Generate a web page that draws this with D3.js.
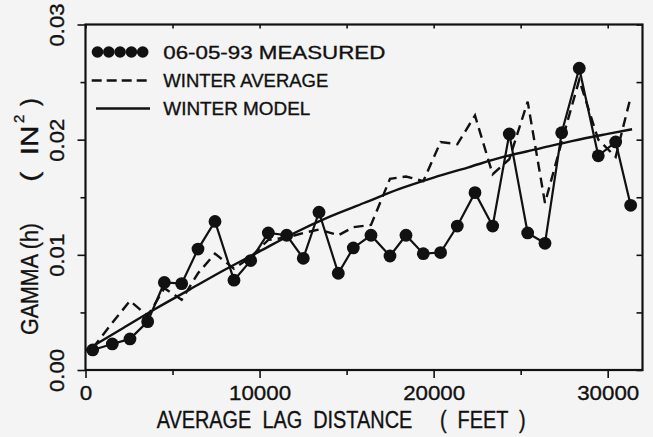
<!DOCTYPE html>
<html>
<head>
<meta charset="utf-8">
<script src="https://cdn.jsdelivr.net/npm/d3@7"></script>
<style>
  html, body { margin: 0; padding: 0; background: #f4f4f4; }
  svg { display: block; }
  text { font-family: "Liberation Sans", Arial, Helvetica, sans-serif; fill: #111; stroke: #111; stroke-width: 0.35px; }
</style>
</head>
<body>
<svg id="chart" width="653" height="437"></svg>
<script>
// Lag distances (feet) of the measured / winter-average bins
const lagFeet = [413, 1540, 2556, 3572, 4530, 5525, 6463, 7440, 8530, 9490,
  10503, 11557, 12512, 13414, 14523, 15386, 16402, 17493, 18412, 19406,
  20400, 21360, 22376, 23392, 24347, 25403, 26398, 27356, 28367, 29460,
  30458, 31320];

// 06-05-93 measured semivariogram
const measuredGamma = [0.00174, 0.00226, 0.0027, 0.0042, 0.0076, 0.0075, 0.0105, 0.0129, 0.0078, 0.0095,
  0.0119, 0.0117, 0.0097, 0.0137, 0.0084, 0.0106, 0.0117, 0.0099, 0.0117, 0.0101,
  0.0102, 0.0125, 0.0154, 0.0125, 0.0205, 0.0119, 0.0110, 0.0206, 0.0262, 0.0186,
  0.0198, 0.0143];

// Winter average semivariogram
const winterAverage = [0.0019, 0.0041, 0.0060, 0.0047, 0.0071, 0.0061, 0.0084, 0.0101, 0.0088, 0.0098,
  0.0113, 0.0115, 0.0119, 0.0122, 0.0117, 0.0124, 0.0126, 0.0166, 0.0168, 0.0164,
  0.0198, 0.0196, 0.0221, 0.0170, 0.0183, 0.0233, 0.0145, 0.0198, 0.0252, 0.0200,
  0.0185, 0.0237];

// Winter model curve, sampled
const modelLag   = [0, 2000, 4000, 6000, 8000, 10000, 12000, 14000, 16000, 18000, 20000, 22000, 24000, 26000, 28000, 30000, 31400];
const modelGamma = [0.0017, 0.0035, 0.0053, 0.0070, 0.0087, 0.0103, 0.0119, 0.0133, 0.0145, 0.0157, 0.0167, 0.0176, 0.0185, 0.0192, 0.0199, 0.0205, 0.0209];

const xMajorTicks = [0, 10000, 20000, 30000];
const xMinorTicks = [5000, 15000, 25000];
const yMajorTicks = [0, 0.01, 0.02, 0.03];
const yMinorTicks = [0.005, 0.015, 0.025];

const legendLabels = ["06-05-93 MEASURED", "WINTER AVERAGE", "WINTER MODEL"];
const xTitle = "AVERAGE  LAG  DISTANCE     (  FEET  )";

const L = 85.5, R = 642.5, T = 24.5, B = 370;
const svg = d3.select("#chart");

const x = d3.scaleLinear().domain([0, 32000]).range([L, R]);
const y = d3.scaleLinear().domain([0, 0.03]).range([B, T]);

// ---- axes -------------------------------------------------------------
const axisStyle = g => {
  g.select(".domain").remove();
  g.selectAll(".tick line").attr("stroke", "#111").attr("stroke-width", 1.6);
};

// bottom: major ticks with labels, minor ticks without
svg.append("g").attr("transform", `translate(0,${B})`)
  .call(d3.axisBottom(x).tickValues(xMajorTicks).tickSize(8).tickFormat(d3.format("d")))
  .call(axisStyle)
  .call(g => g.selectAll(".tick text")
    .attr("y", 30).attr("dy", 0)
    .attr("font-size", 21)
    .attr("textLength", d => d === 0 ? 12.5 : 62)
    .attr("lengthAdjust", "spacingAndGlyphs")
    .style("fill", "#111"));
svg.append("g").attr("transform", `translate(0,${B})`)
  .call(d3.axisBottom(x).tickValues(xMinorTicks).tickSize(5).tickFormat(""))
  .call(axisStyle);

// top: short inward ticks
svg.append("g").attr("transform", `translate(0,${T})`)
  .call(d3.axisBottom(x).tickValues(xMajorTicks.concat(xMinorTicks)).tickSize(4).tickFormat(""))
  .call(axisStyle);

// left: rotated labels
svg.append("g").attr("transform", `translate(${L},0)`)
  .call(d3.axisLeft(y).tickValues(yMajorTicks).tickSize(8).tickFormat(d3.format(".2f")))
  .call(axisStyle)
  .call(g => g.selectAll(".tick text")
    .attr("x", 0).attr("dy", 0)
    .attr("transform", "translate(-22,0) rotate(-90)")
    .attr("text-anchor", "middle")
    .attr("font-size", 21)
    .attr("textLength", 43)
    .attr("lengthAdjust", "spacingAndGlyphs")
    .style("fill", "#111"));
svg.append("g").attr("transform", `translate(${L},0)`)
  .call(d3.axisLeft(y).tickValues(yMinorTicks).tickSize(5).tickFormat(""))
  .call(axisStyle);

// right: inward ticks
svg.append("g").attr("transform", `translate(${R},0)`)
  .call(d3.axisRight(y).tickValues(yMajorTicks.concat(yMinorTicks)).tickSize(-6).tickFormat(""))
  .call(axisStyle);

// frame
svg.append("rect")
  .attr("x", L).attr("y", T).attr("width", R - L).attr("height", B - T)
  .attr("fill", "none").attr("stroke", "#111").attr("stroke-width", 2.2);

// ---- axis titles --------------------------------------------------------
svg.append("text").attr("x", 156.7).attr("y", 428)
  .style("white-space", "pre")
  .attr("font-size", 23).attr("textLength", 369).attr("lengthAdjust", "spacingAndGlyphs")
  .text(xTitle);

const yTitle = svg.append("g");
yTitle.append("text").attr("transform", "translate(38.3,335) rotate(-90)")
  .attr("font-size", 23).attr("textLength", 112).attr("lengthAdjust", "spacingAndGlyphs")
  .text("GAMMA (h)");
yTitle.append("text").attr("transform", "translate(38.3,181.7) rotate(-90)")
  .style("white-space", "pre")
  .attr("font-size", 23).attr("textLength", 56).attr("lengthAdjust", "spacingAndGlyphs")
  .text("(  IN");
yTitle.append("text").attr("transform", "translate(23.5,123) rotate(-90)")
  .attr("font-size", 15).text("2");
yTitle.append("text").attr("transform", "translate(38.3,106) rotate(-90)")
  .attr("font-size", 23).text(")");

// ---- series -------------------------------------------------------------
const lineGen = d3.line().x(d => x(d[0])).y(d => y(d[1]));

const avgPts = lagFeet.map((d, i) => [d, winterAverage[i]]);
svg.append("path").datum(avgPts)
  .attr("d", lineGen)
  .attr("fill", "none").attr("stroke", "#111").attr("stroke-width", 2.4)
  .attr("stroke-dasharray", "10,6");

const modelPts = modelLag.map((d, i) => [d, modelGamma[i]]);
svg.append("path").datum(modelPts)
  .attr("d", lineGen.curve(d3.curveMonotoneX))
  .attr("fill", "none").attr("stroke", "#111").attr("stroke-width", 2.4);

const measPts = lagFeet.map((d, i) => [d, measuredGamma[i]]);
svg.append("path").datum(measPts)
  .attr("d", d3.line().x(d => x(d[0])).y(d => y(d[1])))
  .attr("fill", "none").attr("stroke", "#111").attr("stroke-width", 2.2);
svg.append("g").selectAll("circle").data(measPts).join("circle")
  .attr("cx", d => x(d[0])).attr("cy", d => y(d[1])).attr("r", 6.4)
  .attr("fill", "#111");

// ---- legend -------------------------------------------------------------
const leg = svg.append("g");
const rowY = [52, 80.5, 108.5];
leg.selectAll("circle").data(d3.range(5)).join("circle")
  .attr("cx", i => 97.5 + i * 11.3).attr("cy", rowY[0]).attr("r", 5.8).attr("fill", "#111");
leg.append("line").attr("x1", 91.7).attr("x2", 149).attr("y1", rowY[1]).attr("y2", rowY[1])
  .attr("stroke", "#111").attr("stroke-width", 2.4).attr("stroke-dasharray", "10,5");
leg.append("line").attr("x1", 96).attr("x2", 150).attr("y1", rowY[2]).attr("y2", rowY[2])
  .attr("stroke", "#111").attr("stroke-width", 2.4);
const legWidths = [222, 165, 147];
leg.selectAll("text").data(legendLabels).join("text")
  .attr("x", 163.3).attr("y", (d, i) => rowY[i] + 6.5)
  .attr("font-size", 19)
  .attr("textLength", (d, i) => legWidths[i]).attr("lengthAdjust", "spacingAndGlyphs")
  .text(d => d);
</script>
</body>
</html>
